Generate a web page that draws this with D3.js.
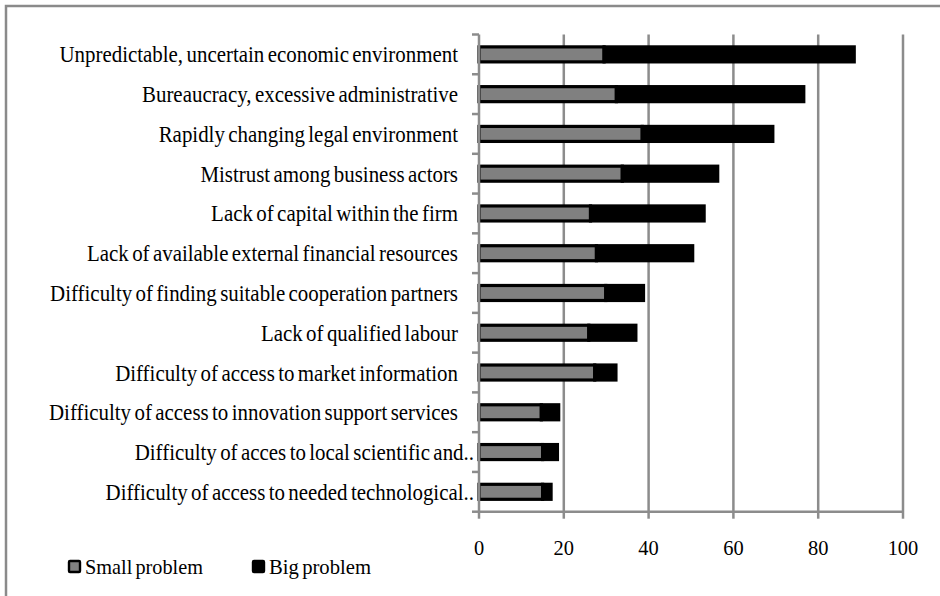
<!DOCTYPE html>
<html>
<head>
<meta charset="utf-8">
<script src="https://cdn.jsdelivr.net/npm/d3@7"></script>
<style>
  html, body { margin: 0; padding: 0; background: #fff; }
  svg { display: block; }
</style>
</head>
<body>
<svg id="chart" width="940" height="596" font-family="'Liberation Serif', 'Times New Roman', Times, serif"></svg>
<script>
// Obstacles to business activity, share of firms (%)
const categories = [
  "Unpredictable, uncertain economic environment",
  "Bureaucracy, excessive administrative",
  "Rapidly changing legal environment",
  "Mistrust among business actors",
  "Lack of capital within the firm",
  "Lack of available external financial resources",
  "Difficulty of finding suitable cooperation partners",
  "Lack of qualified labour",
  "Difficulty of access to market information",
  "Difficulty of access to innovation support services",
  "Difficulty of acces to local scientific and..",
  "Difficulty of access to needed technological.."
];
const smallProblem = [29.5, 32.4, 38.5, 33.8, 26.3, 27.7, 29.9, 25.9, 27.3, 14.7, 15.0, 15.0];
const bigProblem   = [59.0, 44.2, 30.8, 22.5, 26.8, 22.7,  8.9, 11.1,  5.0,  4.1,  3.5,  2.0];
const seriesNames  = ["Small problem", "Big problem"];
const seriesColors = ["#808080", "#000000"];
const xTicks = [0, 20, 40, 60, 80, 100];

const svg = d3.select("#chart");
const W = 940, H = 596;

// outer frame
svg.append("rect")
  .attr("x", 6).attr("y", 6).attr("width", W).attr("height", H)
  .attr("fill", "none").attr("stroke", "#8a8a8a").attr("stroke-width", 2.5);

const plot = { left: 479, right: 903, top: 34.5, bottom: 511.7 };

const x = d3.scaleLinear().domain([0, 100]).range([plot.left, plot.right]);
const y = d3.scaleBand().domain(categories).range([plot.top, plot.bottom]).paddingInner(0.6).paddingOuter(0.3);

const gridColor = "#8c8c8c";

// vertical gridlines
svg.append("g").selectAll("line").data(xTicks.filter(d => d > 0)).join("line")
  .attr("x1", d => x(d)).attr("x2", d => x(d))
  .attr("y1", plot.top).attr("y2", plot.bottom)
  .attr("stroke", gridColor).attr("stroke-width", 2.5);

// stacked bars
const rows = categories.map((c, i) => ({ cat: c, vals: [smallProblem[i], bigProblem[i]] }));
const stack = d3.stack().keys([0, 1]).value((d, k) => d.vals[k]);
const layers = stack(rows);

const bh = 15;
layers.forEach((layer, k) => {
  svg.append("g").selectAll("rect").data(layer).join("rect")
    .attr("x", d => x(d[0]))
    .attr("y", d => y(d.data.cat) + y.bandwidth() / 2 - bh / 2)
    .attr("width", d => x(d[1]) - x(d[0]))
    .attr("height", bh)
    .attr("fill", seriesColors[k])
    .attr("stroke", "#000").attr("stroke-width", 3.2);
});

// x axis line and ticks
const xa = svg.append("g");
xa.append("line")
  .attr("x1", plot.left - 1).attr("x2", plot.right + 1)
  .attr("y1", plot.bottom).attr("y2", plot.bottom)
  .attr("stroke", gridColor).attr("stroke-width", 2.5);
xa.selectAll("line.t").data(xTicks).join("line").attr("class", "t")
  .attr("x1", d => x(d)).attr("x2", d => x(d))
  .attr("y1", plot.bottom).attr("y2", plot.bottom + 7)
  .attr("stroke", gridColor).attr("stroke-width", 2.5);
const tickLabels = xa.selectAll("text").data(xTicks).join("text")
  .attr("x", d => x(d)).attr("y", 555)
  .attr("text-anchor", "middle")
  .attr("font-size", 22)
  .text(d => d);

// y axis line and boundary ticks
const ya = svg.append("g");
ya.append("line")
  .attr("x1", plot.left).attr("x2", plot.left)
  .attr("y1", plot.top).attr("y2", plot.bottom)
  .attr("stroke", gridColor).attr("stroke-width", 2.5);
const step = (plot.bottom - plot.top) / categories.length;
ya.selectAll("line.t").data(d3.range(categories.length + 1)).join("line").attr("class", "t")
  .attr("x1", plot.left - 7).attr("x2", plot.left)
  .attr("y1", i => plot.top + i * step).attr("y2", i => plot.top + i * step)
  .attr("stroke", gridColor).attr("stroke-width", 2.5);

// category labels: tight word spacing, slightly condensed
const labels = svg.append("g").selectAll("text").data(categories).join("text")
  .attr("x", d => d.endsWith("..") ? 474 : 458)
  .attr("y", d => y(d) + y.bandwidth() / 2 + 8)
  .attr("text-anchor", "end")
  .attr("font-size", 23)
  .attr("word-spacing", -2)
  .text(d => d);
const refW = labels.nodes()[9].getComputedTextLength();
const squeeze = 409 / refW;
labels.each(function () {
  const w = this.getComputedTextLength();
  d3.select(this).attr("textLength", w * squeeze).attr("lengthAdjust", "spacingAndGlyphs");
});
tickLabels.each(function () {
  const w = this.getComputedTextLength();
  d3.select(this).attr("textLength", w * 0.93).attr("lengthAdjust", "spacingAndGlyphs");
});

// legend
const legend = svg.append("g");
const legendItems = [
  { name: seriesNames[0], color: seriesColors[0], sx: 68, tx: 85, w: 118 },
  { name: seriesNames[1], color: seriesColors[1], sx: 252, tx: 269, w: 102 }
];
legendItems.forEach(it => {
  legend.append("rect")
    .attr("x", it.sx + 1).attr("y", 561).attr("width", 11).attr("height", 11)
    .attr("fill", it.color).attr("stroke", "#000").attr("stroke-width", 2.4).attr("rx", 1);
  legend.append("text")
    .attr("x", it.tx).attr("y", 574)
    .attr("font-size", 22)
    .attr("word-spacing", -2)
    .attr("textLength", it.w).attr("lengthAdjust", "spacingAndGlyphs")
    .text(it.name);
});
</script>
</body>
</html>
